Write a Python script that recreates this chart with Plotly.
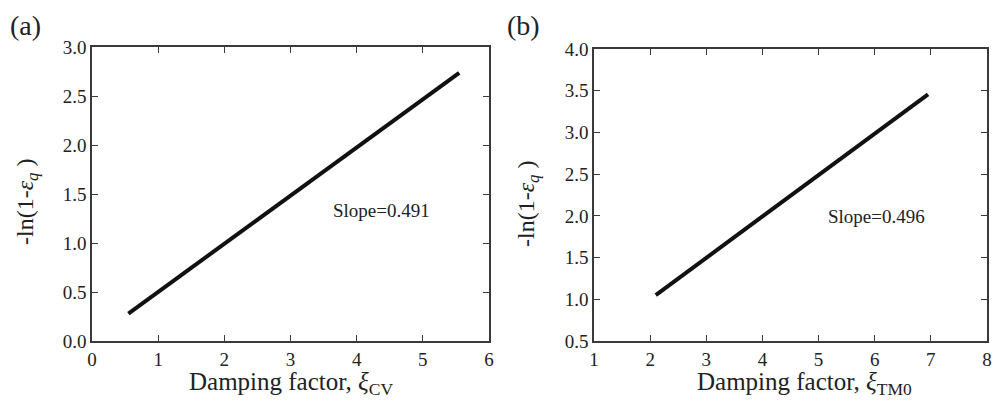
import plotly.graph_objects as go

# Panel (a) data
xa = [0.55, 5.55]
ya = [0.28, 2.735]
slope_a = "Slope=0.491"
# Panel (b) data
xb = [2.1, 6.95]
yb = [1.05, 3.455]
slope_b = "Slope=0.496"

xticks_a = [0, 1, 2, 3, 4, 5, 6]
yticks_a = [0.0, 0.5, 1.0, 1.5, 2.0, 2.5, 3.0]
xticks_b = [1, 2, 3, 4, 5, 6, 7, 8]
yticks_b = [0.5, 1.0, 1.5, 2.0, 2.5, 3.0, 3.5, 4.0]

W, H = 992, 400
FONT = "Liberation Serif, Times New Roman, serif"
AX = "#3a3a3a"

fig = go.Figure()
fig.add_trace(go.Scatter(x=xa, y=ya, mode="lines", line=dict(color="#111", width=4),
                         xaxis="x", yaxis="y", showlegend=False))
fig.add_trace(go.Scatter(x=xb, y=yb, mode="lines", line=dict(color="#111", width=4),
                         xaxis="x2", yaxis="y2", showlegend=False))

def px(x):
    return x / W

def py(y):
    return (H - y) / H

common = dict(showgrid=False, zeroline=False, showline=True, linecolor=AX, linewidth=1.5,
              mirror="ticks", ticks="inside", ticklen=6, tickwidth=1, tickcolor=AX,
              automargin=False,
              tickfont=dict(family=FONT, size=19, color="#222"))

fig.update_layout(
    width=W, height=H,
    margin=dict(l=0, r=0, t=0, b=0, autoexpand=False),
    paper_bgcolor="white", plot_bgcolor="white",
    font=dict(family=FONT, color="#222"),
    xaxis=dict(domain=[px(92), px(489)], range=[0, 6], tickvals=xticks_a,
               ticktext=[str(v) for v in xticks_a], anchor="y", **common),
    yaxis=dict(domain=[py(341), py(47)], range=[0, 3], tickvals=yticks_a,
               ticktext=[f"{v:.1f}" for v in yticks_a], anchor="x", **common),
    xaxis2=dict(domain=[px(594), px(987)], range=[1, 8], tickvals=xticks_b,
                ticktext=[str(v) for v in xticks_b], anchor="y2", **common),
    yaxis2=dict(domain=[py(341), py(49)], range=[0.5, 4.0], tickvals=yticks_b,
                ticktext=[f"{v:.1f}" for v in yticks_b], anchor="x2", **common),
)

def pann(text, x, y, size, angle=0):
    return dict(text=text, x=px(x), y=py(y), xref="paper", yref="paper",
                xanchor="center", yanchor="middle", showarrow=False, textangle=angle,
                font=dict(family=FONT, size=size, color="#222"))

ann = []
# Panel labels
ann.append(pann("(a)", 25, 26, 28))
ann.append(pann("(b)", 523, 26, 28))
# X titles
ann.append(pann("Damping factor, <i>ξ</i><sub>CV</sub>", 291, 383, 25))
ann.append(pann("Damping factor, <i>ξ</i><sub>TM0</sub>", 804, 383, 25))
# Y titles
ytitle = "-ln(1-<i>ε</i><sub><i>q</i></sub> )"
ann.append(pann(ytitle, 27, 202, 24, -90))
ann.append(pann(ytitle, 528, 204, 24, -90))
# Slope labels
ann.append(dict(text=slope_a, x=4.37, y=1.33, xref="x", yref="y", showarrow=False,
                xanchor="center", yanchor="middle",
                font=dict(family=FONT, size=19, color="#222")))
ann.append(dict(text=slope_b, x=6.03, y=1.99, xref="x2", yref="y2", showarrow=False,
                xanchor="center", yanchor="middle",
                font=dict(family=FONT, size=19, color="#222")))

fig.update_layout(annotations=ann)
fig.write_html("out.html", config={"displayModeBar": False},
               post_script="document.body.style.margin='0';document.body.style.overflow='hidden';")
